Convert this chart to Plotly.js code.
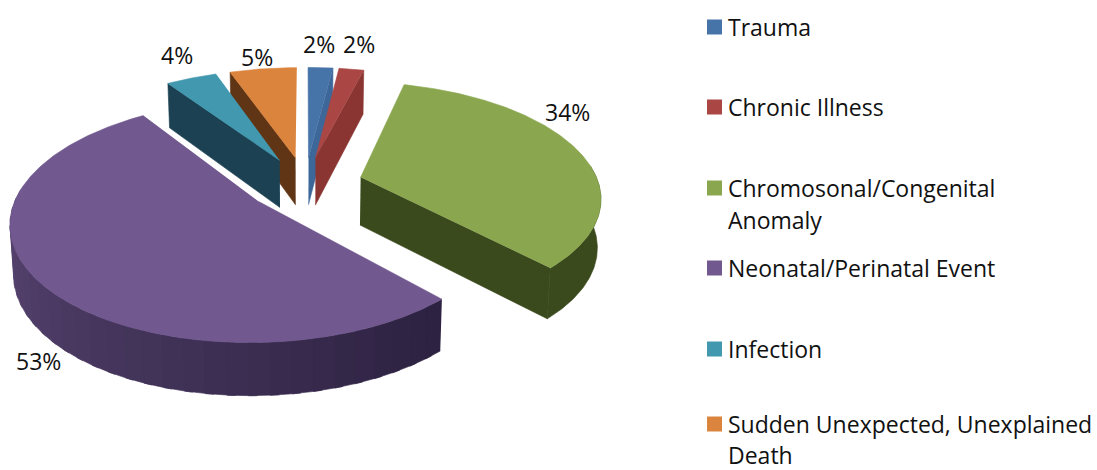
<!DOCTYPE html>
<html><head><meta charset="utf-8">
<script src="https://cdn.plot.ly/plotly-3.0.1.min.js"></script>
<style>html,body{margin:0;padding:0;background:#fff}#c{width:1097px;height:470px}</style>
</head><body><div id="c"></div>
<script>
// Data
const categories = ['Trauma','Chronic Illness','Chromosonal/Congenital Anomaly','Neonatal/Perinatal Event','Infection','Sudden Unexpected, Unexplained Death'];
const values = [2, 2, 34, 52.5, 4.1, 5.4];
const percentLabels = ['2%','2%','34%','53%','4%','5%'];

// Styles
const topColors  = ['#4674a9','#aa4644','#8aa64f','#71588f','#4198af','#db843d'];
const faceColors = ['#3d6699','#8b3533','#3a4a1c','#2c2140','#1b4153','#5f3516'];
const labelX = [319,359,567,38,177,257];
const labelY = [44,44,112,361,55,57];
const legendY = [27,107,188,268,349,424];
const wrapWords = [0,0,1,0,0,1];       // trailing words moved to a second legend line
const wrapGap = [0,0,32,0,0,31];
const drawOrder = [5,4,0,1,2,3];
const FONT = '"Open Sans", Carlito, Calibri, sans-serif';
const FS_LEG = 23, FS_LAB = 23, TXT = '#111111';

// Projection of the tilted, exploded disc
const CX=305, CY=184, TILT=0.472, PERSP=0.00067, R=238, PULL=58, DEPTH=48;
function proj(X,Y,low){
  const s=1/(1-PERSP*Y);
  let x=CX+X*s, y=CY+TILT*Y*s;
  if(low){ x=CX+(x-CX)*0.988; y+=DEPTH*Math.sqrt(s); }
  return [x,y];
}
const total=values.reduce((a,b)=>a+b,0);
let cum=0;
const slices=values.map((v,i)=>{
  const a0=cum/total*360; cum+=v; const a1=cum/total*360; return {i,a0,a1};
});
const rad=d=>d*Math.PI/180;
const traces=[];
function poly(pts,color){
  traces.push({type:'scatter',mode:'lines',x:pts.map(p=>p[0]),y:pts.map(p=>p[1]),
    fill:'toself',fillcolor:color,line:{color:color,width:0.6},hoverinfo:'skip',showlegend:false});
}
function hex(c){return [1,3,5].map(k=>parseInt(c.substr(k,2),16));}
function mix(a,b,t){const A=hex(a),B=hex(b);return 'rgb('+A.map((v,k)=>Math.round(v+(B[k]-v)*t)).join(',')+')';}

drawOrder.forEach(idx=>{
  const {i,a0,a1}=slices[idx];
  const m=rad((a0+a1)/2);
  const AX=PULL*Math.sin(m), AY=-PULL*Math.cos(m);
  const rimP=(a,low)=>proj(AX+R*Math.sin(rad(a)),AY-R*Math.cos(rad(a)),low);
  const apex=low=>proj(AX,AY,low);
  if(Math.sin(rad(a0))<-1e-6) poly([apex(false),rimP(a0,false),rimP(a0,true),apex(true)],faceColors[i]);
  if(Math.sin(rad(a1))>1e-6)  poly([apex(false),rimP(a1,false),rimP(a1,true),apex(true)],faceColors[i]);
  // outer wall, front part only; each band overlaps the one drawn before it
  const f0=Math.max(a0,84), f1=Math.min(a1,276);
  if(f1>f0){
    const n=i===3?32:1;
    for(let k=n-1;k>=0;k--){
      const b0=f0+(f1-f0)*k/n, b1=f0+(f1-f0)*(k+1)/n;
      const e0=Math.max(f0,b0-(f1-f0)/n*0.4);
      const pts=[];
      for(let a=e0;a<b1;a+=0.5) pts.push(rimP(a,false));
      pts.push(rimP(b1,false));
      pts.push(rimP(b1,true));
      for(let a=b1;a>e0;a-=0.5) pts.push(rimP(a,true));
      pts.push(rimP(e0,true));
      const col=i===3?mix('#5c4876',faceColors[3],1-(k+0.5)/n):faceColors[i];
      poly(pts,col);
    }
  }
  const pts=[apex(false)];
  for(let a=a0;a<a1;a+=0.5) pts.push(rimP(a,false));
  pts.push(rimP(a1,false));
  poly(pts,topColors[i]);
});

// Legend swatches
traces.push({type:'scatter',mode:'markers',x:legendY.map(()=>714.5),y:legendY,
  marker:{symbol:'square',size:15,color:topColors,line:{width:0}},hoverinfo:'skip',showlegend:false});

const ann=[];
percentLabels.forEach((t,i)=>ann.push({x:labelX[i],y:labelY[i],xref:'x',yref:'y',text:t,showarrow:false,
  xanchor:'center',yanchor:'middle',font:{family:FONT,size:FS_LAB,color:TXT}}));
categories.forEach((c,i)=>{
  const w=c.split(' '), cut=w.length-wrapWords[i];
  const lines=wrapWords[i]?[w.slice(0,cut).join(' '),w.slice(cut).join(' ')]:[c];
  lines.forEach((t,j)=>ann.push({x:726,y:legendY[i]+j*wrapGap[i],xref:'x',yref:'y',text:t,showarrow:false,
    xanchor:'left',yanchor:'middle',font:{family:FONT,size:FS_LEG,color:TXT}}));
});

Plotly.newPlot('c',traces,{
  width:1097,height:470,margin:{l:0,r:0,t:0,b:0},showlegend:false,
  paper_bgcolor:'#fff',plot_bgcolor:'#fff',hovermode:false,
  xaxis:{range:[0,1097],visible:false,fixedrange:true},
  yaxis:{range:[470,0],visible:false,fixedrange:true},
  annotations:ann
},{displayModeBar:false,staticPlot:true});
</script></body></html>
